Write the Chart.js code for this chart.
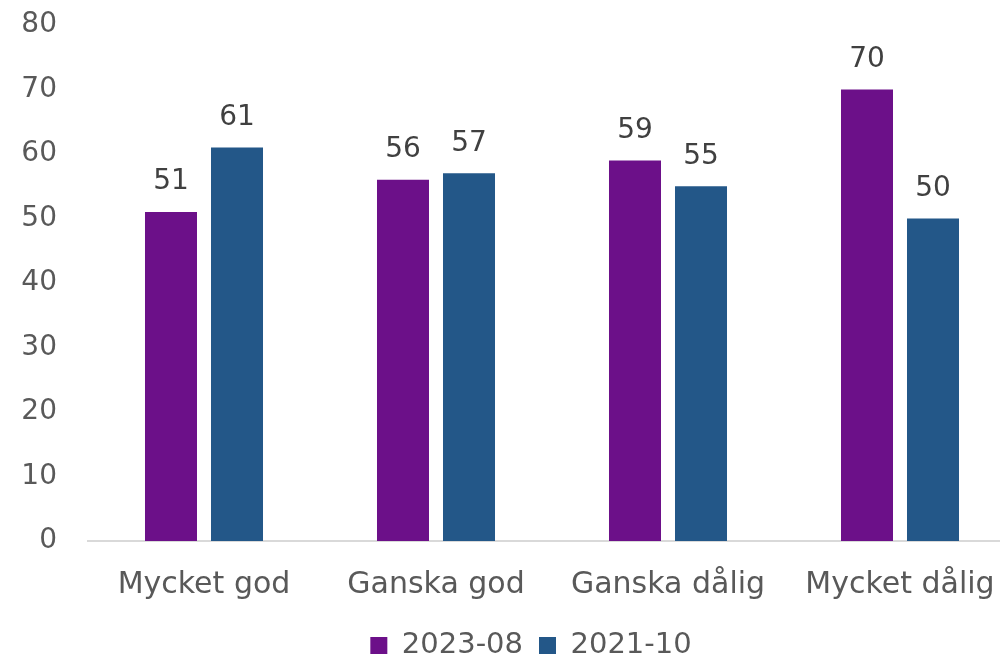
<!DOCTYPE html>
<html>
<head>
<meta charset="utf-8">
<script src="https://cdn.jsdelivr.net/npm/chart.js@4"></script>
<style>
  html, body { margin: 0; padding: 0; background: #fff; overflow: hidden; }
  #wrap { width: 1016px; height: 658px; }
</style>
</head>
<body>
<div id="wrap"><canvas id="chart"></canvas></div>
<script>
const categories = ['Mycket god', 'Ganska god', 'Ganska dålig', 'Mycket dålig'];
const series_2023 = [51, 56, 59, 70];
const series_2021 = [61, 57, 55, 50];
const series_names = ['2023-08', '2021-10'];

const font_family = '"DejaVu Sans", sans-serif';

// draw the value on top of each bar
const bar_labels = {
  id: 'bar_labels',
  afterDatasetsDraw(chart) {
    const ctx = chart.ctx;
    ctx.save();
    ctx.font = `28px ${font_family}`;
    ctx.fillStyle = '#404040';
    ctx.textAlign = 'center';
    ctx.textBaseline = 'middle';
    chart.data.datasets.forEach((ds, i) => {
      chart.getDatasetMeta(i).data.forEach((bar, j) => {
        ctx.fillText(ds.data[j], bar.x, bar.y - 30);
      });
    });
    ctx.restore();
  },
};

// legend sits a bit right of the canvas centre in the original
const legend_shift = {
  id: 'legend_shift',
  afterLayout(chart) {
    chart.legend.left += 46;
  },
};

new Chart(document.querySelector('#chart'), {
  type: 'bar',
  data: {
    labels: categories,
    datasets: [
      {
        label: series_names[0],
        data: series_2023,
        backgroundColor: '#6c1089',
        categoryPercentage: 0.569,
        barPercentage: 0.788,
      },
      {
        label: series_names[1],
        data: series_2021,
        backgroundColor: '#235788',
        categoryPercentage: 0.569,
        barPercentage: 0.788,
      },
    ],
  },
  plugins: [bar_labels, legend_shift],
  options: {
    responsive: true,
    maintainAspectRatio: false,
    animation: false,
    layout: { padding: { top: 0, right: 0, bottom: -12, left: 0 } },
    plugins: {
      tooltip: { enabled: false },
      legend: {
        position: 'bottom',
        labels: {
          font: { family: font_family, size: 29 },
          color: '#595959',
          boxWidth: 17,
          boxHeight: 17,
          padding: 16,
        },
      },
    },
    scales: {
      x: {
        grid: { display: false },
        border: { color: '#d9d9d9', width: 2 },
        ticks: {
          font: { family: font_family, size: 30 },
          color: '#595959',
          padding: 18,
        },
        afterFit: (scale) => { scale.height = 74; },
      },
      y: {
        min: 0,
        max: 80,
        grid: { display: false },
        border: { display: false },
        ticks: {
          stepSize: 10,
          font: { family: font_family, size: 28 },
          color: '#595959',
          padding: 23,
        },
        afterFit: (scale) => {
          scale.width = 88;
          scale.paddingTop = 25;
          scale.paddingBottom = 0;
        },
      },
    },
  },
});
</script>
</body>
</html>
